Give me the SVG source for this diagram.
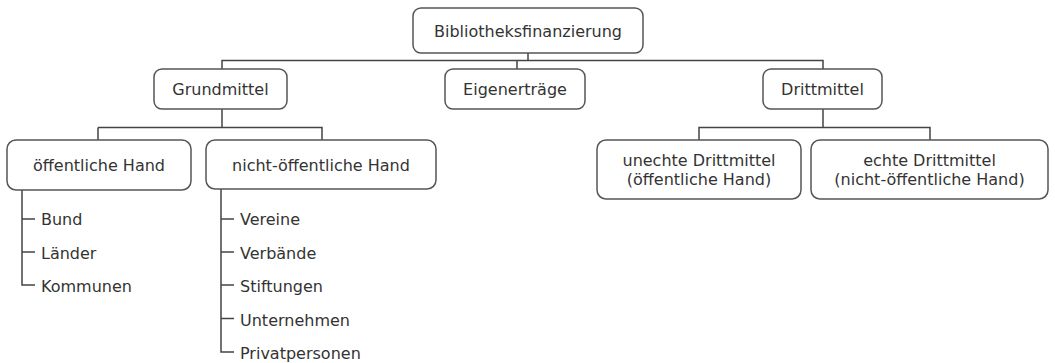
<svg xmlns="http://www.w3.org/2000/svg" width="1055" height="363" viewBox="0 0 1055 363">
<style>
.box{fill:#fff;stroke:#555;stroke-width:1.5}
.t{font-family:"DejaVu Sans",Verdana,sans-serif;font-size:16px;fill:#333}
.c{text-anchor:middle}
.ln{fill:none;stroke:#444;stroke-width:1.5}
</style>
<rect width="1055" height="363" fill="#fff"/>
<g id="connectors">
<path class="ln" d="M528 53V60.5M222 69V60.5H823V69M517 60.5V69"/>
<path class="ln" d="M222 109V127.5H322V140M98 127.5V140M98 127.5H222"/>
<path class="ln" d="M823 109V127.5M699 140V127.5H930V140"/>
<path class="ln" d="M22 190V285H35M22 219H35M22 252H35"/>
<path class="ln" d="M221 189V352H234M221 219H234M221 252H234M221 285H234M221 318.5H234"/>
</g>
<g id="n-root"><rect class="box" x="413" y="8" width="230" height="45" rx="8"/><text class="t c" x="528" y="37">Bibliotheksfinanzierung</text></g>
<g id="n-grund"><rect class="box" x="154" y="69" width="133" height="40" rx="8"/><text class="t c" x="220.5" y="95">Grundmittel</text></g>
<g id="n-eigen"><rect class="box" x="445" y="69" width="140" height="40" rx="8"/><text class="t c" x="515" y="95">Eigenerträge</text></g>
<g id="n-dritt"><rect class="box" x="763" y="69" width="119" height="40" rx="8"/><text class="t c" x="822.5" y="95">Drittmittel</text></g>
<g id="n-oeff"><rect class="box" x="7" y="140" width="184" height="50" rx="9"/><text class="t c" x="99" y="171">öffentliche Hand</text></g>
<g id="n-nichtoeff"><rect class="box" x="206" y="140" width="230" height="49" rx="9"/><text class="t c" x="321" y="171">nicht-öffentliche Hand</text></g>
<g id="n-unecht"><rect class="box" x="597" y="140" width="204" height="59" rx="9"/><text class="t c" x="699" y="166">unechte Drittmittel</text><text class="t c" x="699" y="185">(öffentliche Hand)</text></g>
<g id="n-echt"><rect class="box" x="811" y="140" width="237" height="59" rx="9"/><text class="t c" x="929.5" y="166">echte Drittmittel</text><text class="t c" x="929.5" y="185">(nicht-öffentliche Hand)</text></g>
<g id="list-oeff">
<text class="t" x="41" y="225">Bund</text>
<text class="t" x="41" y="259">Länder</text>
<text class="t" x="41" y="292">Kommunen</text>
</g>
<g id="list-nichtoeff">
<text class="t" x="240" y="225">Vereine</text>
<text class="t" x="240" y="259">Verbände</text>
<text class="t" x="240" y="292">Stiftungen</text>
<text class="t" x="240" y="325.5">Unternehmen</text>
<text class="t" x="240" y="359">Privatpersonen</text>
</g>
</svg>
